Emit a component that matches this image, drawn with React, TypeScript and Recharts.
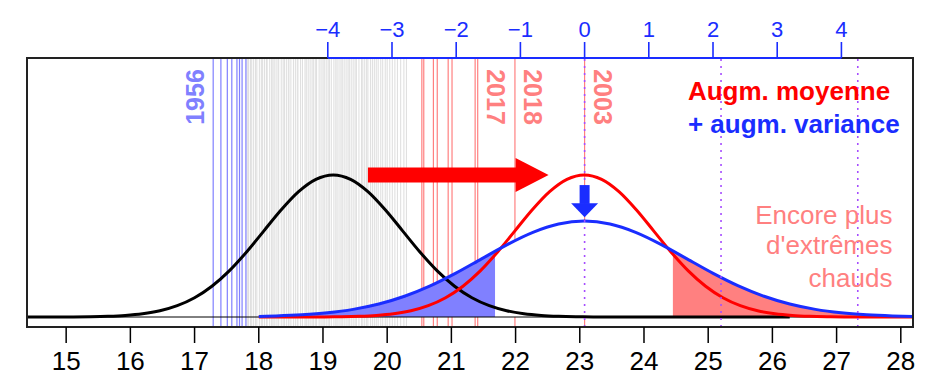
import React from 'react';
import {
  ComposedChart,
  Line,
  Area,
  XAxis,
  YAxis,
  ReferenceLine,
  ReferenceArea,
  ReferenceDot,
} from 'recharts';

const FONT = '"Liberation Sans", Arial, Helvetica, sans-serif';

// ---- axes ----
const bottomTicks = [15, 16, 17, 18, 19, 20, 21, 22, 23, 24, 25, 26, 27, 28];
const topTicks = [-4, -3, -2, -1, 0, 1, 2, 3, 4];
const X_MIN = 14.39;
const X_MAX = 28.19;
const SHIFT = 23.075; // top axis = temperature - mean of new distribution
const Y_MIN = -0.026;
const Y_MAX = 0.6734;

// ---- past distribution (black) ----
const blackT = [14.39, 14.84, 15.11, 15.38, 15.65, 15.92, 16.19, 16.46, 16.73, 17.0, 17.27, 17.54, 17.81, 18.08, 18.35, 18.62, 18.89, 19.16, 19.43, 19.7, 19.97, 20.24, 20.51, 20.78, 21.05, 21.32, 21.59, 21.86, 22.13, 22.4, 22.67, 22.94, 23.21, 23.48, 26.27];
const blackD = [0, 0.0001, 0.0003, 0.0008, 0.0019, 0.0041, 0.0084, 0.0162, 0.0294, 0.05, 0.0799, 0.1199, 0.1691, 0.224, 0.2788, 0.326, 0.358, 0.3694, 0.358, 0.326, 0.2788, 0.224, 0.1691, 0.1199, 0.0799, 0.05, 0.0294, 0.0162, 0.0084, 0.0041, 0.0019, 0.0008, 0.0003, 0.0001, 0];

// ---- shifted mean (red) ----
const redT = [18.0, 18.75, 19.02, 19.29, 19.56, 19.83, 20.1, 20.37, 20.64, 20.91, 21.18, 21.45, 21.72, 21.99, 22.26, 22.53, 22.8, 23.07, 23.34, 23.61, 23.88, 24.15, 24.42, 24.69, 24.96, 25.23, 25.5, 25.77, 26.04, 26.31, 26.58, 26.85, 27.12, 27.39, 28.19];
const redD = [0, 0.0001, 0.0003, 0.0008, 0.0019, 0.0041, 0.0084, 0.0162, 0.0294, 0.05, 0.0799, 0.1199, 0.1691, 0.224, 0.2788, 0.326, 0.358, 0.3694, 0.358, 0.326, 0.2788, 0.224, 0.1691, 0.1199, 0.0799, 0.05, 0.0294, 0.0162, 0.0084, 0.0041, 0.0019, 0.0008, 0.0003, 0.0001, 0];

// ---- shifted mean + larger variance (blue) ----
const blueT = [18.0, 18.27, 18.67, 19.07, 19.47, 19.87, 20.27, 20.67, 21.07, 21.47, 21.87, 22.27, 22.67, 23.07, 23.47, 23.87, 24.27, 24.67, 25.07, 25.47, 25.87, 26.27, 26.67, 27.07, 27.47, 27.87, 28.19];
const blueD = [0.0016, 0.0028, 0.0057, 0.0109, 0.0198, 0.0337, 0.0539, 0.0809, 0.1141, 0.1512, 0.1882, 0.22, 0.2416, 0.2493, 0.2416, 0.22, 0.1882, 0.1512, 0.1141, 0.0809, 0.0539, 0.0337, 0.0198, 0.0109, 0.0057, 0.0028, 0.0015];

// tail limits of shaded zones and curve value there
const coldCut = { t: 21.68, d: 0.1709 };
const hotCut = { t: 24.45, d: 0.1719 };

// ---- observed summers (temperature of each year) ----
const greyYears = [17.82, 17.84, 17.87, 17.89, 17.92, 17.95, 17.97, 18.01, 18.04, 18.06, 18.09, 18.12, 18.13, 18.17, 18.2, 18.22, 18.24, 18.27, 18.3, 18.31, 18.35, 18.38, 18.4, 18.43, 18.46, 18.47, 18.5, 18.54, 18.57, 18.6, 18.61, 18.65, 18.68, 18.72, 18.74, 18.77, 18.8, 18.83, 18.85, 18.88, 18.9, 18.94, 18.97, 19.0, 19.02, 19.05, 19.08, 19.1, 19.13, 19.17, 19.2, 19.22, 19.25, 19.28, 19.3, 19.33, 19.36, 19.39, 19.41, 19.44, 19.47, 19.5, 19.52, 19.56, 19.6, 19.62, 19.65, 19.68, 19.7, 19.74, 19.77, 19.8, 19.83, 19.86, 19.9, 19.93, 19.97, 20.0, 20.04, 20.08, 20.12, 20.16, 20.21, 20.26, 20.3];
const coldYears = [17.29, 17.41, 17.51, 17.58, 17.66, 17.7, 17.74, 17.8];
const hotYears = [20.54, 20.57, 20.72, 20.78, 20.95, 21.01, 21.37, 21.41, 21.99, 23.075];
const dottedMarks = [23.075, 25.2, 27.33];

// top (anomaly) axis line extent
const topAxisSpan = [
  { t: -4, d: Y_MAX },
  { t: 4, d: Y_MAX },
];

const yearLabels = [
  { label: '1956', t: 17.0, rot: -90 },
  { label: '2017', t: 21.69, rot: 90 },
  { label: '2018', t: 22.27, rot: 90 },
  { label: '2003', t: 23.36, rot: 90 },
];

const zip = (ts: number[], ds: number[]) => ts.map((t, i) => ({ t, d: ds[i] }));
const blackData = zip(blackT, blackD);
const redData = zip(redT, redD);
const blueData = zip(blueT, blueD);
const coldTail = [...blueData.filter((p) => p.t < coldCut.t), coldCut];
const hotTail = [hotCut, ...blueData.filter((p) => p.t > hotCut.t)];

const BLUE = '#1a2dff';
const LIGHT_BLUE = '#8080ff';
const PINK = '#ff8080';
const RED = '#ff0000';
const PURPLE = '#a64dff';

const textShape = (content: string, opts: any) => (p: any) => (
  <text
    x={p.cx}
    y={p.cy}
    fontFamily={FONT}
    {...opts}
    transform={opts.rot ? `rotate(${opts.rot} ${p.cx} ${p.cy})` : undefined}
  >
    {content}
  </text>
);

const BottomTick = (p: any) => (
  <text
    x={p.x}
    y={p.y}
    dy="0.72em"
    textAnchor="middle"
    fontFamily={FONT}
    fontSize={26}
    fill="#000"
  >
    {p.payload.value}
  </text>
);

const TopTick = (p: any) => (
  <text x={p.x} y={p.y} textAnchor="middle" fontFamily={FONT} fontSize={22} fill={BLUE}>
    {String(p.payload.value).replace('-', '\u2212')}
  </text>
);

export default function App() {
  return (
    <div style={{ position: 'absolute', left: 0, top: 0, background: '#fff' }}>
      <ComposedChart
        width={942}
        height={388}
        margin={{ top: 0, right: 29, bottom: 0, left: 27 }}
        style={{ fontFamily: FONT }}
      >
        <XAxis
          dataKey="t"
          type="number"
          domain={[X_MIN, X_MAX]}
          ticks={bottomTicks}
          height={61}
          axisLine={false}
          tickSize={16}
          tickMargin={8}
          tickLine={{ stroke: '#000', strokeWidth: 1.5 }}
          tick={BottomTick}
          interval={0}
        />
        <XAxis
          xAxisId="top"
          dataKey="t"
          orientation="top"
          type="number"
          domain={[X_MIN - SHIFT, X_MAX - SHIFT]}
          ticks={topTicks}
          height={58}
          axisLine={false}
          tickSize={16}
          tickMargin={5}
          tickLine={{ stroke: BLUE, strokeWidth: 1.6 }}
          tick={TopTick}
          interval={0}
        />
        <YAxis hide type="number" domain={[Y_MIN, Y_MAX]} />

        {greyYears.map((t, i) => (
          <ReferenceLine key={'g' + i} x={t} stroke="#e0e0e0" strokeWidth={1.1} zIndex={10} />
        ))}
        {coldYears.map((t, i) => (
          <ReferenceLine key={'c' + i} x={t} stroke={LIGHT_BLUE} strokeWidth={1.2} zIndex={11} />
        ))}
        {hotYears.map((t, i) => (
          <ReferenceLine key={'h' + i} x={t} stroke={PINK} strokeWidth={1.2} zIndex={11} />
        ))}

        <Area
          data={blueData}
          dataKey="d"
          type="monotone"
          baseValue={0}
          fill="#ffffff"
          fillOpacity={1}
          stroke="none"
          isAnimationActive={false}
          dot={false}
          activeDot={false}
          zIndex={20}
        />
        <Area
          data={coldTail}
          dataKey="d"
          type="monotone"
          baseValue={0}
          fill={LIGHT_BLUE}
          fillOpacity={1}
          stroke="none"
          isAnimationActive={false}
          dot={false}
          activeDot={false}
          zIndex={21}
        />
        <Area
          data={hotTail}
          dataKey="d"
          type="monotone"
          baseValue={0}
          fill={PINK}
          fillOpacity={1}
          stroke="none"
          isAnimationActive={false}
          dot={false}
          activeDot={false}
          zIndex={21}
        />

        <ReferenceLine y={0} stroke="#000" strokeWidth={1} zIndex={30} />

        <Line
          data={blackData}
          dataKey="d"
          type="monotone"
          stroke="#000"
          strokeWidth={3}
          dot={false}
          activeDot={false}
          isAnimationActive={false}
          zIndex={40}
        />
        <Line
          data={redData}
          dataKey="d"
          type="monotone"
          stroke={RED}
          strokeWidth={3}
          dot={false}
          activeDot={false}
          isAnimationActive={false}
          zIndex={41}
        />
        <Line
          data={blueData}
          dataKey="d"
          type="monotone"
          stroke={BLUE}
          strokeWidth={3}
          dot={false}
          activeDot={false}
          isAnimationActive={false}
          zIndex={42}
        />

        {dottedMarks.map((t, i) => (
          <ReferenceLine
            key={'p' + i}
            x={t}
            stroke={PURPLE}
            strokeWidth={1.6}
            strokeDasharray="2 5"
            zIndex={50}
          />
        ))}

        <ReferenceArea
          x1={X_MIN}
          x2={X_MAX}
          y1={Y_MIN}
          y2={Y_MAX}
          fill="none"
          fillOpacity={0}
          stroke="#222"
          strokeWidth={2}
          ifOverflow="visible"
          zIndex={60}
        />
        <Line
          xAxisId="top"
          data={topAxisSpan}
          dataKey="d"
          type="linear"
          stroke={BLUE}
          strokeWidth={2}
          dot={false}
          activeDot={false}
          isAnimationActive={false}
          zIndex={61}
        />

        {/* red arrow: shift of the mean */}
        <ReferenceLine
          segment={[
            { x: 19.7, y: 0.369 },
            { x: 22.01, y: 0.369 },
          ]}
          stroke={RED}
          strokeWidth={15}
          zIndex={70}
        />
        <ReferenceDot
          x={22.0}
          y={0.369}
          r={0}
          zIndex={70}
          shape={(p: any) => (
            <polygon
              points={`${p.cx},${p.cy - 17} ${p.cx + 33},${p.cy} ${p.cx},${p.cy + 17}`}
              fill={RED}
            />
          )}
        />
        {/* blue arrow: flattening */}
        <ReferenceLine
          segment={[
            { x: 23.075, y: 0.343 },
            { x: 23.075, y: 0.294 },
          ]}
          stroke={BLUE}
          strokeWidth={10}
          zIndex={70}
        />
        <ReferenceDot
          x={23.075}
          y={0.296}
          r={0}
          zIndex={70}
          shape={(p: any) => (
            <polygon
              points={`${p.cx - 13.5},${p.cy} ${p.cx + 13.5},${p.cy} ${p.cx},${p.cy + 14}`}
              fill={BLUE}
            />
          )}
        />

        {yearLabels.map((y, i) => (
          <ReferenceDot
            key={'yl' + i}
            x={y.t}
            y={0.572}
            r={0}
            zIndex={80}
            shape={textShape(y.label, {
              rot: y.rot,
              textAnchor: 'middle',
              dominantBaseline: 'central',
              fontWeight: 'bold',
              fontSize: 25,
              fill: i === 0 ? LIGHT_BLUE : PINK,
            })}
          />
        ))}

        <ReferenceDot
          x={24.684}
          y={0.564}
          r={0}
          zIndex={80}
          shape={textShape('Augm. moyenne', { fontWeight: 'bold', fontSize: 26, fill: RED })}
        />
        <ReferenceDot
          x={24.684}
          y={0.478}
          r={0}
          zIndex={80}
          shape={textShape('+ augm. variance', { fontWeight: 'bold', fontSize: 26, fill: BLUE })}
        />
        <ReferenceDot
          x={27.87}
          y={0.241}
          r={0}
          zIndex={80}
          shape={textShape('Encore plus', { textAnchor: 'end', fontSize: 26, fill: PINK })}
        />
        <ReferenceDot
          x={27.87}
          y={0.164}
          r={0}
          zIndex={80}
          shape={textShape("d'extrêmes", { textAnchor: 'end', fontSize: 26, fill: PINK })}
        />
        <ReferenceDot
          x={27.87}
          y={0.0788}
          r={0}
          zIndex={80}
          shape={textShape('chauds', { textAnchor: 'end', fontSize: 26, fill: PINK })}
        />
      </ComposedChart>
    </div>
  );
}
